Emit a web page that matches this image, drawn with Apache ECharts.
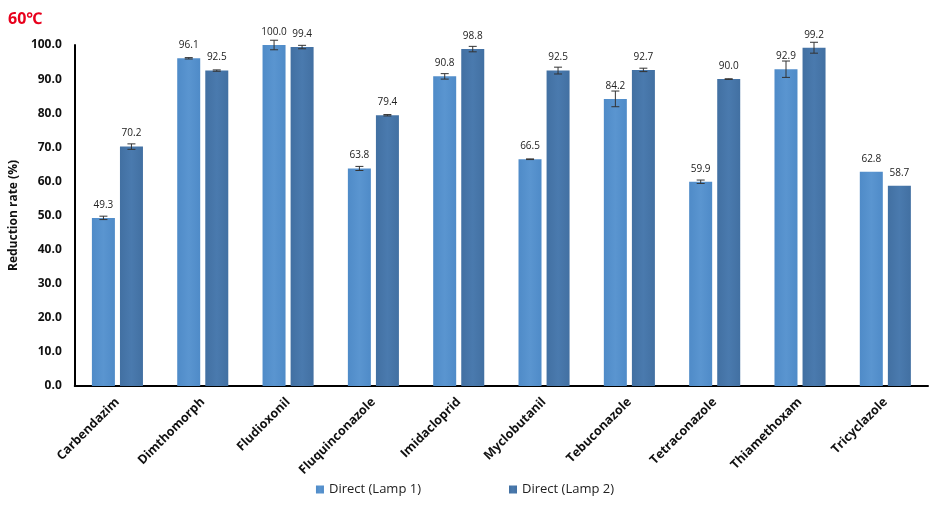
<!DOCTYPE html>
<html>
<head>
<meta charset="utf-8">
<script src="https://cdn.jsdelivr.net/npm/echarts@6/dist/echarts.min.js"></script>
<style>html,body{margin:0;padding:0;background:#fff}#c{width:930px;height:507px}</style>
</head>
<body>
<div id="c"></div>
<script>
const categories = ["Carbendazim","Dimthomorph","Fludioxonil","Fluquinconazole","Imidacloprid","Myclobutanil","Tebuconazole","Tetraconazole","Thiamethoxam","Tricyclazole"];
const lamp1 = [49.3, 96.1, 100.0, 63.8, 90.8, 66.5, 84.2, 59.9, 92.9, 62.8];
const lamp2 = [70.2, 92.5, 99.4, 79.4, 98.8, 92.5, 92.7, 90.0, 99.2, 58.7];
const lamp1Err = [0.5, 0.2, 1.4, 0.6, 0.8, 0.1, 2.3, 0.5, 2.4, 0];
const lamp2Err = [0.8, 0.2, 0.5, 0.2, 0.8, 1.0, 0.5, 0.1, 1.6, 0];
const yTicks = [0, 10, 20, 30, 40, 50, 60, 70, 80, 90, 100];
const seriesNames = ["Direct (Lamp 1)", "Direct (Lamp 2)"];

const BAR_W = 23, GAP = 5;
function errSeries(vals, errs, offset, name) {
  return {
    type: 'custom', name: name + ' err', silent: true, z: 5,
    data: vals.map((v, i) => [i, v, errs[i]]),
    renderItem: function (params, api) {
      const i = api.value(0), v = api.value(1), e = api.value(2);
      if (!e) return null;
      const top = api.coord([i, v + e]);
      const bot = api.coord([i, v - e]);
      const x = top[0] + offset;
      const cap = 4;
      const st = { stroke: '#333', lineWidth: 1 };
      return {
        type: 'group', children: [
          { type: 'line', shape: { x1: x, y1: top[1], x2: x, y2: bot[1] }, style: st },
          { type: 'line', shape: { x1: x - cap, y1: top[1], x2: x + cap, y2: top[1] }, style: st },
          { type: 'line', shape: { x1: x - cap, y1: bot[1], x2: x + cap, y2: bot[1] }, style: st }
        ]
      };
    }
  };
}
function grad(c1, c2) {
  return new echarts.graphic.LinearGradient(0, 0, 1, 0, [
    { offset: 0, color: c1 }, { offset: 0.5, color: c2 }, { offset: 1, color: c1 }
  ]);
}
const chart = echarts.init(document.getElementById('c'), null, { renderer: 'canvas' });
const labelCfg = {
  show: true, position: 'top', distance: 8, color: '#222',
  fontSize: 10, fontFamily: 'Open Sans, Noto Sans, sans-serif',
  formatter: p => p.value.toFixed(1)
};
chart.setOption({
  animation: false,
  title: {
    text: '60℃', left: 3, top: 6,
    textStyle: { color: '#e8001c', fontSize: 16, fontWeight: 'bold', fontFamily: 'Noto Sans, sans-serif' }
  },
  grid: { left: 73, right: 2, top: 45, bottom: 121 },
  legend: {
    bottom: 6, left: 'center', itemGap: 88,
    itemWidth: 8, itemHeight: 8, icon: 'rect',
    data: seriesNames,
    textStyle: { fontSize: 13, color: '#222', fontFamily: 'Open Sans, Noto Sans, sans-serif' }
  },
  xAxis: {
    type: 'category', data: categories,
    axisLine: { lineStyle: { color: '#000', width: 2 } },
    axisTick: { show: false },
    axisLabel: {
      rotate: 45, interval: 0, margin: 14, color: '#111',
      fontSize: 12.5, fontWeight: 'bold', fontFamily: 'Open Sans, Noto Sans, sans-serif'
    }
  },
  yAxis: {
    type: 'value', min: 0, max: 100, interval: 10,
    name: 'Reduction rate (%)', nameLocation: 'middle', nameGap: 52, nameRotate: 90,
    nameTextStyle: { fontSize: 12, fontWeight: 'bold', color: '#111', fontFamily: 'Open Sans, Noto Sans, sans-serif' },
    axisLine: { show: true, lineStyle: { color: '#000', width: 2 } },
    axisTick: { show: false },
    splitLine: { show: false },
    axisLabel: {
      color: '#111', fontSize: 12, fontWeight: 'bold', margin: 13,
      fontFamily: 'Open Sans, Noto Sans, sans-serif',
      formatter: v => yTicks.includes(v) ? v.toFixed(1) : ''
    }
  },
  series: [
    {
      name: seriesNames[0], type: 'bar', data: lamp1, barWidth: BAR_W, barGap: (GAP / BAR_W * 100).toFixed(0) + '%',
      itemStyle: { color: grad('#4f8bc8', '#5a95d0') }, label: labelCfg
    },
    {
      name: seriesNames[1], type: 'bar', data: lamp2, barWidth: BAR_W,
      itemStyle: { color: grad('#4270a2', '#4a7aae') }, label: labelCfg
    },
    errSeries(lamp1, lamp1Err, -(BAR_W + GAP) / 2, seriesNames[0]),
    errSeries(lamp2, lamp2Err, (BAR_W + GAP) / 2, seriesNames[1])
  ]
});
</script>
</body>
</html>
